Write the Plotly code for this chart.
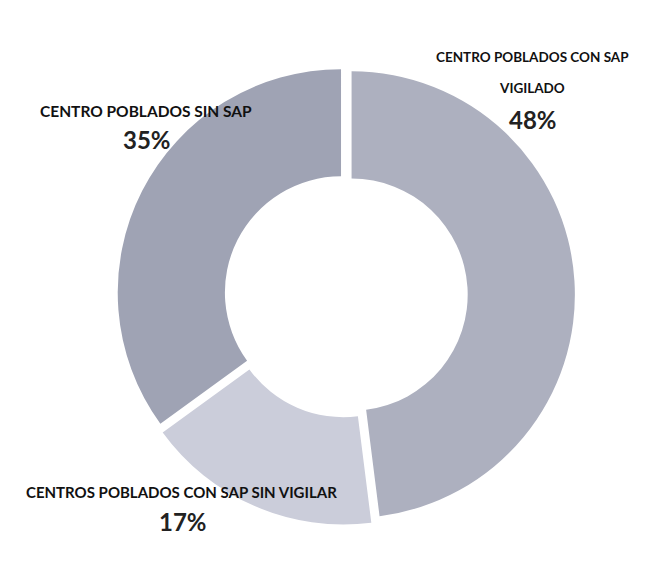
import plotly.graph_objects as go

labels = ["CENTRO POBLADOS CON SAP|VIGILADO", "CENTROS POBLADOS CON SAP SIN VIGILAR", "CENTRO POBLADOS SIN SAP"]
values = [48, 17, 35]
colors = ["#adb0bf", "#cbcdda", "#9fa3b4"]

# screenshot pixel positions of each text line (centre) and the percentage
label_px = [[(532, 57), (532, 88)], [(181, 492)], [(146, 111)]]
label_size = [13.5, 15, 15.5]
pct_px = [(533, 120), (183, 521), (147, 140)]

# page body has an 8px margin, so the figure is drawn a little smaller
OFF = 8
W, H = 649, 555
L, T = 108, 57
R, B = W - L - 460, H - T - 460
pw, ph = W - L - R, H - T - B


def to_paper(px, py):
    return (px - OFF - L) / pw, (H - B - (py - OFF)) / ph


fig = go.Figure(
    go.Pie(
        labels=[s.replace("|", " ") for s in labels],
        values=values,
        hole=0.52,
        sort=False,
        direction="clockwise",
        rotation=0,
        pull=[0.025, 0.03, 0.025],
        marker=dict(colors=colors, line=dict(color="white", width=0)),
        textinfo="none",
        hoverinfo="label+percent",
        showlegend=False,
    )
)

total = sum(values)
for lab, v, lines_px, size, (qx, qy) in zip(labels, values, label_px, label_size, pct_px):
    for part, (lx, ly) in zip(lab.split("|"), lines_px):
        x, y = to_paper(lx, ly)
        fig.add_annotation(
            x=x, y=y, xref="paper", yref="paper", text=f"<b>{part}</b>", showarrow=False,
            font=dict(family="Lato", size=size, color="#111111"), xanchor="center", yanchor="middle",
        )
    x, y = to_paper(qx, qy)
    fig.add_annotation(
        x=x, y=y, xref="paper", yref="paper", text=f"<b>{round(100 * v / total)}%</b>", showarrow=False,
        font=dict(family="Lato", size=24, color="#222222"), xanchor="center", yanchor="middle",
    )

fig.update_layout(
    width=W,
    height=H,
    margin=dict(l=L, r=R, t=T, b=B),
    paper_bgcolor="white",
    plot_bgcolor="white",
)

fig.write_html("out.html")
